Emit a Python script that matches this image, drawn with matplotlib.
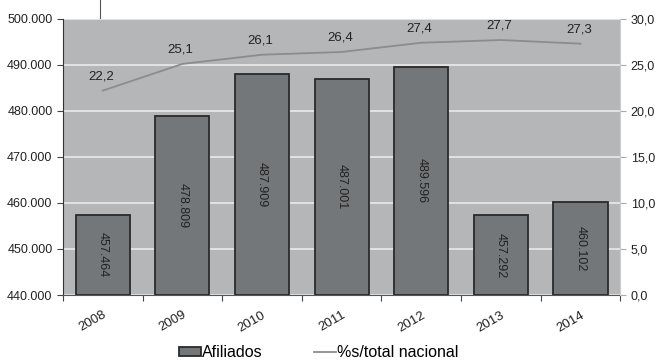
import matplotlib.pyplot as plt
import numpy as np

years = ["2008", "2009", "2010", "2011", "2012", "2013", "2014"]
afiliados = [457464, 478809, 487909, 487001, 489596, 457292, 460102]
afil_labels = ["457.464", "478.809", "487.909", "487.001", "489.596", "457.292", "460.102"]
pct = [22.2, 25.1, 26.1, 26.4, 27.4, 27.7, 27.3]

left_ticks = [440000, 450000, 460000, 470000, 480000, 490000, 500000]
right_ticks = [0, 5, 10, 15, 20, 25, 30]

plt.rcParams['font.family'] = ['Liberation Sans', 'DejaVu Sans']

fig = plt.figure(figsize=(6.55, 3.62), dpi=100)
ax = fig.add_axes([0.096, 0.185, 0.851, 0.763])
ax.set_facecolor("#b5b6b8")
x = np.arange(len(years))

ax.set_ylim(440000, 500000)
ax.set_xlim(-0.5, len(years) - 0.5)
ax.set_yticks(left_ticks)
ax.set_yticklabels([f"{v:,}".replace(",", ".") for v in left_ticks], fontsize=9, color="#222222")
ax.yaxis.grid(True, color="#e6e6e6", lw=1.3)
ax.set_axisbelow(True)

bars = ax.bar(x, np.array(afiliados) - 440000, bottom=440000, width=0.68,
              color="#74777a", edgecolor="#2a2a2a", lw=1.3, label="Afiliados", zorder=2)
for xi, v, lab in zip(x, afiliados, afil_labels):
    ax.text(xi, (v + 440000) / 2, lab, rotation=270, ha="center", va="center",
            fontsize=9, color="#222222", zorder=3)

ax.set_xticks(np.arange(len(years) + 1) - 0.5, minor=False)
ax.set_xticklabels([""] * (len(years) + 1))
ax.set_xticks(x, minor=True)
ax.set_xticklabels(years, minor=True, rotation=30, fontsize=9.5, color="#222222",
                   ha="right", rotation_mode="anchor")
ax.tick_params(axis="x", which="minor", length=0, pad=10)
ax.tick_params(axis="x", which="major", length=4, color="#444444")
ax.tick_params(axis="y", length=4, color="#444444")
for s in ["top", "right"]:
    ax.spines[s].set_visible(False)
ax.spines["left"].set_color("#333333")
ax.spines["bottom"].set_color("#555555")

ax2 = ax.twinx()
ax2.set_ylim(0, 30)
ax2.set_yticks(right_ticks)
ax2.set_yticklabels([f"{v:.1f}".replace(".", ",") for v in right_ticks], fontsize=9, color="#222222")
ax2.plot(x, pct, color="#8c8c8c", lw=1.3, label="%s/total nacional")
for xi, v in zip(x, pct):
    ax2.text(xi - 0.02, v + 0.9, f"{v:.1f}".replace(".", ","), ha="center", va="bottom",
             fontsize=9.5, color="#222222")
ax2.tick_params(axis="y", length=4, color="#aaaaaa")
for s in ["top", "left", "bottom"]:
    ax2.spines[s].set_visible(False)
ax2.spines["right"].set_color("#cccccc")

fig.lines.append(plt.Line2D([0.153, 0.153], [0.95, 1.0], transform=fig.transFigure,
                            color="#555555", lw=0.8))

h1, l1 = ax.get_legend_handles_labels()
h2, l2 = ax2.get_legend_handles_labels()
fig.legend(h1 + h2, l1 + l2, loc="lower center", bbox_to_anchor=(0.486, -0.035), ncol=2,
           frameon=False, fontsize=11.5, handlelength=1.4, handleheight=0.55,
           handletextpad=0.05, columnspacing=3.2)

fig.savefig("out.png", dpi=100)
